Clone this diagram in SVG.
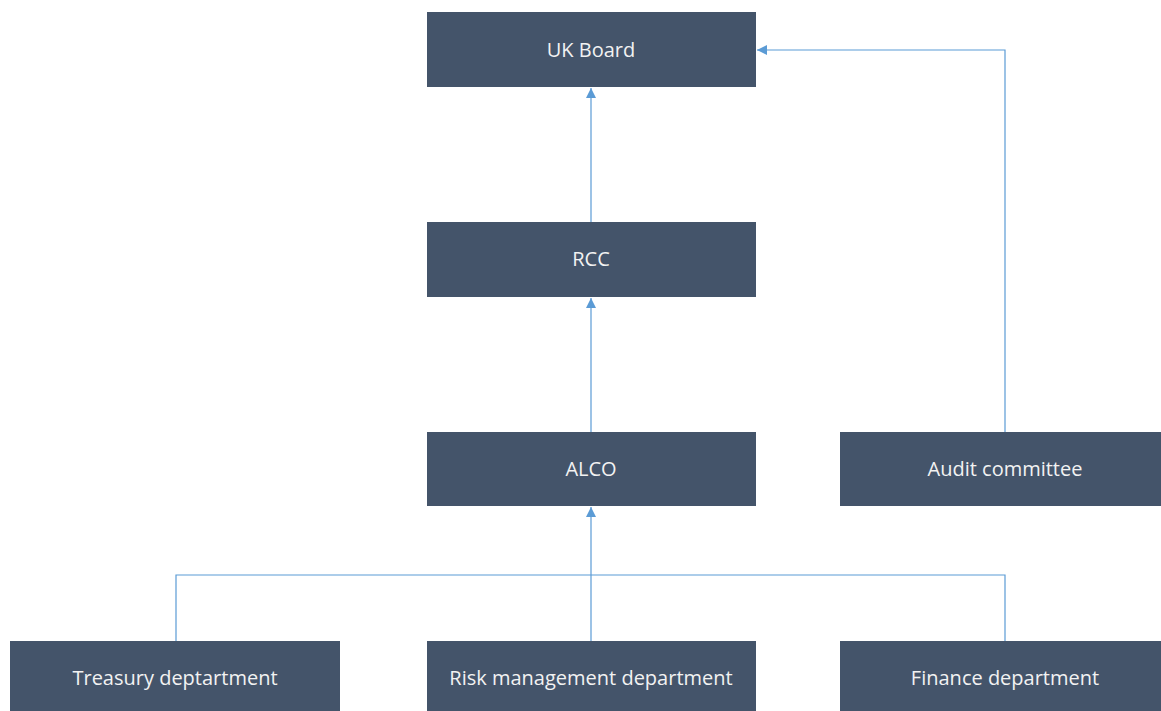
<svg xmlns="http://www.w3.org/2000/svg" width="1161" height="711" viewBox="0 0 1161 711">
  <style>
    .box { fill: #44546a; }
    .lbl { fill: #f2f2f2; font-family: "Open Sans", "DejaVu Sans", sans-serif; font-size: 20px; text-anchor: middle; dominant-baseline: central; }
    .wire { fill: none; stroke: #5b9bd5; stroke-width: 1.2; }
  </style>
  <defs>
    <marker id="arrow" viewBox="0 0 10 10" refX="10" refY="5" markerWidth="10" markerHeight="10" markerUnits="userSpaceOnUse" orient="auto">
      <path d="M0,0 L10,5 L0,10 Z" fill="#5b9bd5"/>
    </marker>
  </defs>
  <rect width="1161" height="711" fill="#ffffff"/>

  <g id="connectors">
    <path class="wire" d="M591,222 V88" marker-end="url(#arrow)"/>
    <path class="wire" d="M591,432 V298" marker-end="url(#arrow)"/>
    <path class="wire" d="M591,641 V507" marker-end="url(#arrow)"/>
    <path class="wire" d="M176,641 V575 H1005 V641"/>
    <path class="wire" d="M1005,432 V50 H757" marker-end="url(#arrow)"/>
  </g>

  <g id="uk-board">
    <rect class="box" x="427" y="12" width="329" height="75"/>
    <text class="lbl" x="591" y="49">UK Board</text>
  </g>
  <g id="rcc">
    <rect class="box" x="427" y="222" width="329" height="75"/>
    <text class="lbl" x="591" y="258">RCC</text>
  </g>
  <g id="alco">
    <rect class="box" x="427" y="432" width="329" height="74"/>
    <text class="lbl" x="591" y="468">ALCO</text>
  </g>
  <g id="audit-committee">
    <rect class="box" x="840" y="432" width="321" height="74"/>
    <text class="lbl" x="1005" y="468">Audit committee</text>
  </g>
  <g id="treasury">
    <rect class="box" x="10" y="641" width="330" height="70"/>
    <text class="lbl" x="175" y="677">Treasury deptartment</text>
  </g>
  <g id="risk-management">
    <rect class="box" x="427" y="641" width="329" height="70"/>
    <text class="lbl" x="591" y="677">Risk management department</text>
  </g>
  <g id="finance">
    <rect class="box" x="840" y="641" width="321" height="70"/>
    <text class="lbl" x="1005" y="677">Finance department</text>
  </g>
</svg>
